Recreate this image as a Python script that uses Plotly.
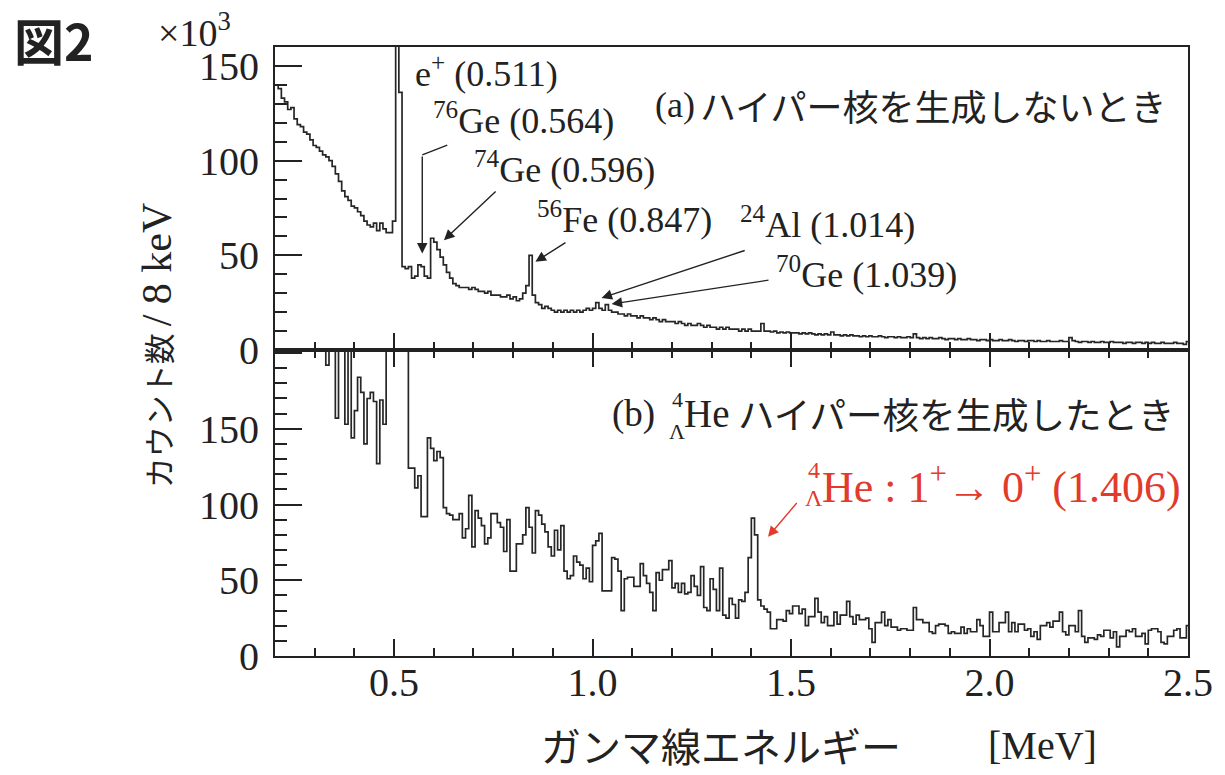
import plotly.graph_objects as go

# ---------------- data ----------------
E_START = 0.200      # MeV, low edge of first bin
BIN_WIDTH = 0.008    # MeV (8 keV)

# (a) without hypernucleus production, counts x10^3 per 8 keV, rows of 10 bins (0.08 MeV)
top_counts = [
    140, 138, 133, 131, 127, 128, 122, 119, 118, 115,
    114, 111, 108, 107, 105, 103, 102, 100, 97, 93,
    89, 84, 81, 79, 76, 75, 73, 71, 68, 66,
    65, 67, 63, 67, 64, 62, 62, 68, 400, 136,
    44, 43, 44, 38, 39, 45, 44, 39, 38, 59,
    57, 53, 49, 45, 41, 38, 35, 34, 33, 33,
    33, 32, 33, 32, 31, 31, 30, 31, 29, 29,
    29, 28, 28, 29, 27, 28, 26, 27, 30, 34,
    50, 29, 25, 24, 22, 23, 22, 21, 20, 21,
    20, 21, 20, 21, 20, 21, 20, 21, 22, 21,
    22, 25, 22, 21, 24, 21, 20, 20, 19, 19,
    18, 19, 18, 18, 17, 18, 17, 17, 16, 17,
    16, 15, 16, 15, 15, 15, 14, 15, 14, 13,
    14, 13, 13, 14, 13, 12, 13, 12, 12, 11,
    12, 11, 12, 11, 11, 11, 10, 11, 10, 11,
    10, 10, 10, 14, 10, 10, 9.5, 10, 9, 9.5,
    9, 9.5, 9, 9, 9, 8.5, 9, 8.5, 9, 8.5,
    8, 8.5, 8, 8.5, 8, 9.5, 8, 8, 7.5, 8,
    7.5, 8, 7.5, 7.5, 7, 7.5, 7, 7.5, 7, 7,
    7.5, 7, 6.5, 7, 7, 6.5, 7, 6.5, 6.5, 7,
    6.5, 8.5, 6.5, 6, 6.5, 6, 6.5, 6, 6, 6.5,
    6, 5.5, 6, 6, 5.5, 6, 5.5, 5.5, 6, 5.5,
    5.5, 5, 5.5, 5.5, 5, 5.5, 5, 5, 5.5, 5,
    5, 5.5, 5, 4.5, 5, 5, 4.5, 5, 5, 4.5,
    5, 4.5, 4.5, 5, 4.5, 4.5, 4.5, 5, 4.5, 4.5,
    6.5, 5, 4.5, 4, 4.5, 4.5, 4, 4.5, 4, 4,
    4.5, 4, 4, 4.5, 4, 4, 4, 3.5, 4, 4,
    3.5, 4, 4, 3.5, 4, 3.5, 4, 3.5, 3.5, 4,
    3.5, 3.5, 3.5, 4, 3.5, 3.5, 3, 4.5,
]

# (b) with 4/Lambda He hypernucleus production, counts per 8 keV
bottom_counts = [
    420, 410, 395, 380, 372, 360, 350, 338, 330, 318,
    305, 296, 285, 272, 262, 250, 192, 230, 235, 157,
    240, 225, 153, 225, 144, 162, 184, 174, 140, 170,
    174, 168, 127, 169, 153, 215, 240, 320, 900, 600,
    280, 225, 124, 124, 111, 119, 92, 92, 144, 137,
    129, 135, 131, 98, 94, 93, 90, 90, 94, 78,
    84, 106, 72, 96, 91, 86, 74, 78, 94, 94,
    88, 85, 69, 90, 56, 56, 74, 74, 80, 98,
    85, 68, 96, 93, 87, 82, 72, 66, 83, 70,
    86, 56, 51, 53, 66, 62, 60, 51, 58, 49,
    73, 76, 81, 43, 43, 43, 65, 64, 56, 30,
    51, 52, 52, 46, 46, 61, 53, 48, 42, 30,
    55, 50, 57, 57, 63, 45, 48, 42, 48, 41,
    42, 53, 46, 40, 59, 32, 30, 51, 44, 30,
    58, 27, 25, 38, 34, 25, 37, 36, 42, 65,
    91, 80, 37, 33, 31, 29, 18, 18, 24, 24,
    23, 30, 28, 33, 33, 28, 31, 20, 26, 26,
    38, 29, 22, 26, 20, 20, 29, 21, 27, 27,
    36, 26, 21, 27, 24, 24, 25, 18, 9, 22,
    22, 29, 20, 24, 19, 19, 17, 18, 18, 17,
    17, 32, 24, 24, 22, 22, 16, 15, 20, 21,
    21, 20, 15, 16, 15, 15, 19, 15, 18, 16,
    16, 24, 20, 13, 13, 29, 16, 16, 22, 22,
    29, 16, 22, 16, 21, 21, 17, 18, 13, 16,
    11, 20, 20, 22, 19, 23, 23, 29, 16, 14,
    20, 20, 16, 30, 13, 9, 12, 12, 11, 14,
    13, 17, 17, 12, 16, 6, 13, 13, 17, 16,
    18, 13, 13, 15, 8, 17, 18, 18, 16, 9,
    8, 13, 13, 17, 18, 12, 12, 20,
]

x_ticks = [0.5, 1.0, 1.5, 2.0, 2.5]
y_ticks_top = [0, 50, 100, 150]
y_ticks_bottom = [0, 50, 100, 150, 200]
y_ticktext_bottom = ["0", "50", "100", "150", ""]

# peak labels in panel (a): label, text x, text y, arrow (tail x, tail y, head x, head y)
peak_labels_top = [
    ("e<sup>+</sup> (0.511)", 0.548, 147.0, None),
    ("<sup>76</sup>Ge (0.564)", 0.593, 122.0, (0.571, 103.0, 0.571, 51.0)),
    ("<sup>74</sup>Ge (0.596)", 0.696, 96.5, (0.7596, 84.5, 0.6256, 58.0)),
    ("<sup>56</sup>Fe (0.847)", 0.854, 70.0, (0.9355, 57.2, 0.856, 46.6)),
    ("<sup>24</sup>Al (1.014)", 1.367, 67.5, (1.387, 52.8, 1.0226, 27.5)),
    ("<sup>70</sup>Ge (1.039)", 1.457, 41.0, (1.447, 37.0, 1.048, 24.3)),
]

# ---------------- figure ----------------
def hist_xy(counts):
    edges = [E_START + BIN_WIDTH * i for i in range(len(counts) + 1)]
    return edges, list(counts) + [counts[-1]]

SERIF = "Liberation Serif"
JP = "Noto Sans CJK JP"
INK = "#222222"
RED = "#e23a2c"

fig = go.Figure()
xs, ys = hist_xy(top_counts)
fig.add_trace(go.Scatter(x=xs, y=ys, mode="lines", xaxis="x", yaxis="y",
                         line=dict(shape="hv", color="#262626", width=1.7),
                         showlegend=False, hoverinfo="skip"))
xs, ys = hist_xy(bottom_counts)
fig.add_trace(go.Scatter(x=xs, y=ys, mode="lines", xaxis="x2", yaxis="y2",
                         line=dict(shape="hv", color="#262626", width=1.7),
                         showlegend=False, hoverinfo="skip"))

L, R, T, B = 275, 35, 47, 119
W, H = 1225, 775
PW, PH = W - L - R, H - T - B
split = (H - B - 350) / PH

common = dict(showline=True, linecolor=INK, linewidth=2, ticks="inside",
              tickcolor=INK, tickwidth=1.5, showgrid=False, zeroline=False,
              tickfont=dict(family=SERIF, size=40, color=INK))
minor_x = dict(tickmode="linear", tick0=0.0, dtick=0.1, ticklen=8,
               ticks="inside", tickcolor=INK, tickwidth=1.5)
minor_y = dict(tickmode="linear", tick0=0, dtick=10, ticklen=12,
               ticks="inside", tickcolor=INK, tickwidth=1.5)

fig.update_layout(
    width=W, height=H, autosize=False,
    margin=dict(l=L, r=R, t=T, b=B),
    paper_bgcolor="white", plot_bgcolor="white",
    xaxis=dict(common, domain=[0, 1], anchor="y", range=[0.2, 2.5],
               tickvals=x_ticks, ticklen=17, showticklabels=False, mirror=True,
               minor=minor_x),
    xaxis2=dict(common, domain=[0, 1], anchor="y2", range=[0.2, 2.5], matches="x",
                tickvals=x_ticks, ticktext=[f"{v:.1f}" for v in x_ticks],
                ticklen=17, mirror="ticks", ticklabelstandoff=-10, minor=minor_x),
    yaxis=dict(common, domain=[split, 1], anchor="x", range=[0, 160],
               tickvals=y_ticks_top, ticktext=[str(v) for v in y_ticks_top],
               ticklen=27, mirror=True, ticklabelstandoff=6, minor=minor_y),
    yaxis2=dict(common, domain=[0, split], anchor="x2", range=[0, 202],
                tickvals=y_ticks_bottom, ticktext=y_ticktext_bottom,
                ticklen=27, mirror=True, ticklabelstandoff=6, minor=minor_y),
)

def px(xp):
    return (xp - L) / PW

def py(yp):
    return (H - B - yp) / PH

ann = []

def text(t, x, y, xref="x", yref="y", size=36, color=INK, family=SERIF,
         xanchor="left", yanchor="middle", angle=0):
    ann.append(dict(text=t, x=x, y=y, xref=xref, yref=yref, showarrow=False,
                    xanchor=xanchor, yanchor=yanchor, textangle=angle,
                    font=dict(family=family, size=size, color=color)))

def arrow(x0, y0, x1, y1, xref="x", yref="y", color=INK):
    ann.append(dict(text="", x=x1, y=y1, ax=x0, ay=y0, xref=xref, yref=yref,
                    axref=xref, ayref=yref, showarrow=True, arrowhead=2,
                    arrowsize=1.5, arrowwidth=1.4, arrowcolor=color, standoff=0))

for label, tx, ty, arr in peak_labels_top:
    text(label, tx, ty, size=36)
    if arr is not None:
        arrow(*arr)

# bent part of the 76Ge arrow
fig.add_shape(type="line", xref="x", yref="y", x0=0.634, y0=108.2, x1=0.571, y1=103.0,
              line=dict(color=INK, width=1.4))

text("(a)", 1.153, 129.5, size=36)
text("ハイパー核を生成しないとき", 1.266, 129.5, size=36, family=JP)

# panel (b)
text("(b)", 1.045, 160, xref="x2", yref="y2", size=37)
text("4", 1.213, 169.5, xref="x2", yref="y2", size=22, xanchor="center")
text("Λ", 1.213, 148.5, xref="x2", yref="y2", size=22, xanchor="center")
text("He", 1.226, 160, xref="x2", yref="y2", size=39)
text("ハイパー核を生成したとき", 1.3625, 160, xref="x2", yref="y2", size=36.5, family=JP)

text("4", 1.557, 123, xref="x2", yref="y2", size=24, color=RED, xanchor="center")
text("Λ", 1.559, 104.5, xref="x2", yref="y2", size=24, color=RED, xanchor="center")
text("He : 1<sup>+</sup>→ 0<sup>+</sup> (1.406)", 1.572, 113.5, xref="x2", yref="y2",
     size=44, color=RED)
arrow(1.5176, 102.0, 1.442, 78.7, xref="x2", yref="y2", color=RED)

# outer labels
text("<b>図2</b>", px(11), py(39), xref="paper", yref="paper", size=50, family=JP)
text("×10<sup>3</sup>", px(156), py(30), xref="paper", yref="paper", size=38)
text('カウント数 <span style="font-family:Liberation Serif;font-size:42px">/ 8 keV</span>',
     px(157), py(345), xref="paper", yref="paper", size=31, family=JP,
     xanchor="center", angle=-90)
text("ガンマ線エネルギー", px(722), py(745), xref="paper", yref="paper", size=40,
     family=JP, xanchor="center")
text("[MeV]", px(1044), py(745), xref="paper", yref="paper", size=40,
     xanchor="center")

fig.update_layout(annotations=ann)
fig.write_html("out.html", config={"displayModeBar": False},
               post_script="document.body.style.margin='0';")
